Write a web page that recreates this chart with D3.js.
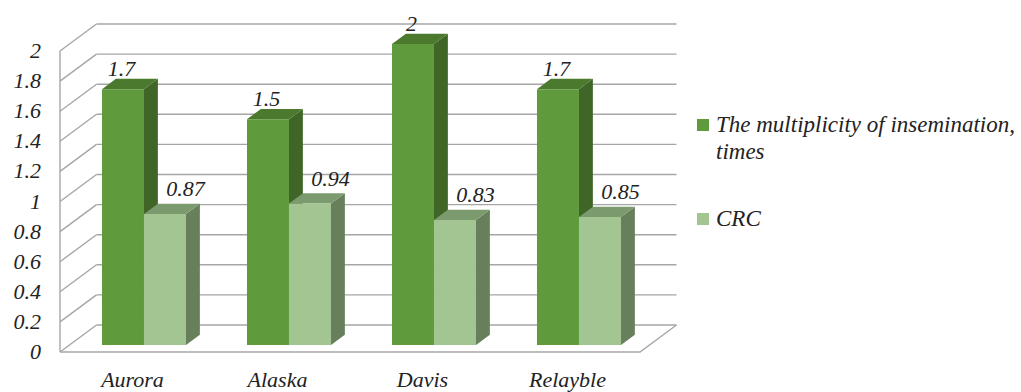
<!DOCTYPE html>
<html>
<head>
<meta charset="utf-8">
<script src="https://cdn.jsdelivr.net/npm/d3@7"></script>
<style>
  html, body { margin: 0; padding: 0; background: #fff; }
  svg { display: block; }
</style>
</head>
<body>
<svg id="chart" width="1021" height="392"></svg>
<script>
// Data
const categories = ["Aurora", "Alaska", "Davis", "Relayble"];
const inseminationValues = [1.7, 1.5, 2, 1.7];
const crcValues = [0.87, 0.94, 0.83, 0.85];
const seriesNames = ["The multiplicity of insemination, times", "CRC"];
const tickValues = [0, 0.2, 0.4, 0.6, 0.8, 1, 1.2, 1.4, 1.6, 1.8, 2];

const series = [
  { name: seriesNames[0], values: inseminationValues, front: "#5f9a3d", top: "#4b7a2e", side: "#3f6527", labelDx: -1, labelDy: -13 },
  { name: seriesNames[1], values: crcValues, front: "#a2c592", top: "#7b9a6d", side: "#677f5b", labelDx: 21, labelDy: -18 }
];

const FONT = "'Liberation Serif', 'Times New Roman', Times, serif";
const svg = d3.select("#chart")
  .attr("font-family", FONT)
  .attr("font-style", "italic");

function label(sel, size) {
  return sel.attr("font-family", FONT).attr("font-style", "italic")
    .attr("font-size", size).attr("fill", "#222");
}

// 3D frame: front plane origin, depth offset to back wall
const X0 = 60, Y0 = 352;
const DX = 36.5, DY = 27;
const plotW = 580;

const y = d3.scaleLinear().domain([0, 2]).range([0, 301]);
const x = d3.scaleBand().domain(categories).range([0, plotW]).paddingInner(0).paddingOuter(0);
const inner = d3.scaleBand().domain([0, 1]).range([32, 116]);

// project (x on front plane, value, depth 0..1) to screen
function P(xf, v, t) {
  return [X0 + xf + t * DX, Y0 - y(v) - t * DY];
}

const grid = "#a6a6a6";
const g = svg.append("g");

// back wall gridlines and left wall diagonals
tickValues.forEach(v => {
  const a = P(0, v, 1), b = P(plotW, v, 1), f = P(0, v, 0);
  g.append("line").attr("x1", a[0]).attr("y1", a[1]).attr("x2", b[0]).attr("y2", b[1])
    .attr("stroke", grid).attr("stroke-width", 1.4);
  g.append("line").attr("x1", f[0]).attr("y1", f[1]).attr("x2", a[0]).attr("y2", a[1])
    .attr("stroke", grid).attr("stroke-width", 1.4);
});

// left wall front edge
{
  const a = P(0, 0, 0), b = P(0, 2, 0);
  g.append("line").attr("x1", a[0]).attr("y1", a[1]).attr("x2", b[0]).attr("y2", b[1])
    .attr("stroke", grid).attr("stroke-width", 1.4);
}
// floor front edge and right edge
{
  const a = P(0, 0, 0), b = P(plotW, 0, 0), c = P(plotW, 0, 1);
  g.append("polyline").attr("points", [a, b, c].map(p => p.join(",")).join(" "))
    .attr("fill", "none").attr("stroke", grid).attr("stroke-width", 1.4);
}

// y tick labels on the front plane
tickValues.forEach(v => {
  const p = P(0, v, 0);
  label(svg.append("text"), 22).attr("x", 41).attr("y", p[1] + 7)
    .attr("text-anchor", "end")
    .text(d3.format("~g")(v));
});

// bars
const T0 = 0.26, T1 = 0.64;
const pts = arr => arr.map(p => p.join(",")).join(" ");
categories.forEach((cat, i) => {
  series.forEach((s, k) => {
    const v = s.values[i];
    const xl = x(cat) + inner(k) + 0.5;
    const xr = xl + inner.bandwidth();
    const fbl = P(xl, 0, T0), fbr = P(xr, 0, T0), ftl = P(xl, v, T0), ftr = P(xr, v, T0);
    const bbr = P(xr, 0, T1), btl = P(xl, v, T1), btr = P(xr, v, T1);
    g.append("polygon").attr("points", pts([fbr, ftr, btr, bbr])).attr("fill", s.side);
    g.append("polygon").attr("points", pts([ftl, ftr, btr, btl])).attr("fill", s.top);
    g.append("polygon").attr("points", pts([fbl, fbr, ftr, ftl])).attr("fill", s.front);
  });
});

// value labels
categories.forEach((cat, i) => {
  series.forEach((s, k) => {
    const v = s.values[i];
    const cx = x(cat) + inner(k) + inner.bandwidth() / 2;
    const p = P(cx, v, T0);
    label(svg.append("text"), 22).attr("x", p[0] + s.labelDx).attr("y", p[1] + s.labelDy)
      .attr("text-anchor", "middle")
      .text(String(v));
  });
});

// category labels
categories.forEach(cat => {
  const p = P(x(cat) + x.bandwidth() / 2, 0, 0);
  label(svg.append("text"), 22).attr("x", p[0]).attr("y", 387)
    .attr("text-anchor", "middle").text(cat);
});

// legend
const legend = svg.append("g");
const legendRows = [
  { color: series[0].front, lines: ["The multiplicity of insemination,", "times"], y: 119 },
  { color: series[1].front, lines: ["CRC"], y: 213 }
];
legendRows.forEach(r => {
  legend.append("rect").attr("x", 697).attr("y", r.y).attr("width", 12).attr("height", 12).attr("fill", r.color);
  r.lines.forEach((ln, j) => {
    label(legend.append("text"), 23).attr("x", 716).attr("y", r.y + 13 + j * 26.5)
      .text(ln);
  });
});
</script>
</body>
</html>
